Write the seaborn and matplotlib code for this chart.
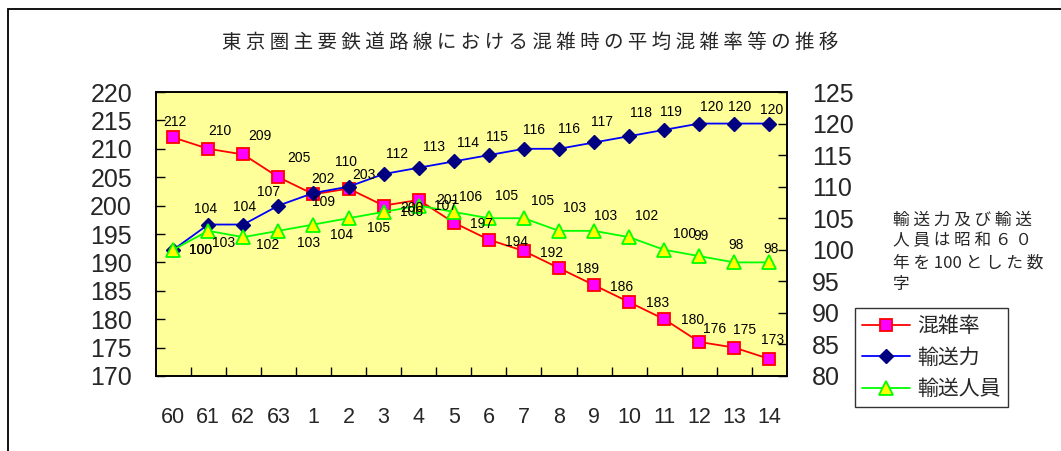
import numpy as np
import pandas as pd
import matplotlib
matplotlib.use('Agg')
import matplotlib.pyplot as plt
from matplotlib.lines import Line2D
from matplotlib.patches import Rectangle
import seaborn as sns

# data
years = ['60', '61', '62', '63', '1', '2', '3', '4', '5', '6', '7',
         '8', '9', '10', '11', '12', '13', '14']
congestion = [212, 210, 209, 205, 202, 203, 200, 201, 197, 194, 192,
              189, 186, 183, 180, 176, 175, 173]
capacity = [100, 104, 104, 107, 109, 110, 112, 113, 114, 115, 116,
            116, 117, 118, 119, 120, 120, 120]
passengers = [100, 103, 102, 103, 104, 105, 106, 107, 106, 105, 105,
              103, 103, 102, 100, 99, 98, 98]

# label offsets in pixels (dx right, dy down) as placed in the original
red_off = [(2, -15), (12, -18), (17, -18), (21, -19), (10, -15), (15, -14),
           (28, 2), (29, 0), (28, 1), (28, 2), (28, 2), (29, 1), (28, 2),
           (28, 1), (28, 1), (15, -13), (10, -18), (3, -19)]
blue_off = [(27, 0), (-3, -16), (1, -18), (-10, -14), (10, 9), (-3, -25),
            (13, -20), (15, -21), (14, -18), (8, -18), (10, -19), (10, -20),
            (8, -20), (12, -23), (7, -18), (12, -17), (5, -17), (2, -14)]
green_off = [(27, 0), (15, 12), (24, 8), (30, 12), (28, 10), (30, 10),
             (28, 0), (27, 0), (17, -15), (18, -22), (19, -17), (16, -23),
             (12, -15), (18, -21), (20, -16), (2, -20), (2, -17), (2, -13)]

df = pd.DataFrame({'pos': np.arange(len(years)), 'year': years,
                   'congestion': congestion, 'capacity': capacity,
                   'passengers': passengers})

sns.set_theme(style='white')
plt.rcParams['font.family'] = ['Liberation Sans', 'Noto Sans CJK JP']
plt.rcParams['axes.unicode_minus'] = False
cjk = ['Noto Sans CJK JP', 'Liberation Sans']

fig = plt.figure(figsize=(10.61, 4.51), dpi=100)
fig.patch.set_facecolor('white')
ax = fig.add_axes([0.1467, 0.1663, 0.5950, 0.6297])
ax.set_facecolor('#FFFF99')
ax2 = ax.twinx()

red_kw = dict(color='#FF0000', lw=1.3, marker='s', markersize=8,
              markerfacecolor='#FF00FF', markeredgecolor='#FF0000', markeredgewidth=1.3)
blue_kw = dict(color='#0000FF', lw=1.3, marker='D', markersize=7.5,
               markerfacecolor='#000080', markeredgecolor='#000080', markeredgewidth=1)
green_kw = dict(color='#00FF00', lw=1.3, marker='^', markersize=9.5,
                markerfacecolor='#FFFF00', markeredgecolor='#00FF00', markeredgewidth=1.3)

sns.lineplot(data=df, x='pos', y='congestion', ax=ax, **red_kw)
sns.lineplot(data=df, x='pos', y='capacity', ax=ax2, **blue_kw)
sns.lineplot(data=df, x='pos', y='passengers', ax=ax2, **green_kw)

# axes ranges / ticks
ax.set_xlim(-0.5, len(years) - 0.5)
ax.set_ylim(170, 220)
ax2.set_ylim(80, 125)
ax.set_yticks(np.arange(170, 221, 5))
ax2.set_yticks(np.arange(80, 126, 5))
ax.set_xticks(df['pos'])
ax.set_xticklabels(years)
ax.set_xticks(np.arange(0.5, len(years) - 1, 1), minor=True)
ax.set_xlabel('')
ax.set_ylabel('')
ax2.set_ylabel('')

ax.tick_params(axis='x', which='major', length=0, pad=22, labelsize=15.5)
ax.tick_params(axis='x', which='minor', direction='in', length=6.5, width=1,
               color='black', bottom=True)
ax.tick_params(axis='y', direction='in', length=6.5, width=1, color='black',
               left=True, pad=17, labelsize=18)
ax2.tick_params(axis='y', direction='in', length=6.5, width=1, color='black',
                right=True, pad=18, labelsize=18)

for a in (ax, ax2):
    for s in a.spines.values():
        s.set_color('black')
        s.set_linewidth(1.2)

# data labels
def put_labels(values, offsets, trans):
    for x, v, (dx, dy) in zip(df['pos'], values, offsets):
        ax2.annotate(str(v), xy=(x, v), xycoords=trans,
                     xytext=(dx, -dy), textcoords='offset pixels',
                     ha='center', va='center', fontsize=10, color='black',
                     zorder=10)

put_labels(congestion, red_off, ax.transData)
put_labels(capacity, blue_off, ax2.transData)
put_labels(passengers, green_off, ax2.transData)

# title and note
title = ' '.join('東京圏主要鉄道路線における混雑時の平均混雑率等の推移')
fig.text(530 / 1061, 1 - 42 / 451, title, ha='center', va='center',
         fontsize=14, family=cjk)
note = '\n'.join([' '.join('輸送力及び輸送'),
                  ' '.join('人員は昭和６０'),
                  '年 を 100 と し た 数',
                  '字'])
fig.text(893 / 1061, 1 - 252 / 451, note, ha='left', va='center',
         fontsize=12, family=cjk, linespacing=1.35,
         transform=fig.transFigure)

# legend
handles = [Line2D([], [], **red_kw), Line2D([], [], **blue_kw),
           Line2D([], [], **green_kw)]
leg = fig.legend(handles, ['混雑率', '輸送力', '輸送人員'], loc='upper left',
                 bbox_to_anchor=(855 / 1061, 1 - 308 / 451), frameon=True,
                 fancybox=False, edgecolor='black', fontsize=15,
                 handlelength=2.3, handletextpad=0.35, labelspacing=0.45,
                 borderpad=0.35, borderaxespad=0, prop={'family': cjk, 'size': 15})
leg.get_frame().set_linewidth(1)

# outer frame of the chart area
fig.patches.append(Rectangle((8 / 1061, -0.1), 1.2, 1 - 9 / 451 + 0.1,
                             transform=fig.transFigure, fill=False,
                             edgecolor='black', linewidth=1.3))

fig.savefig('out.png', dpi=100)
